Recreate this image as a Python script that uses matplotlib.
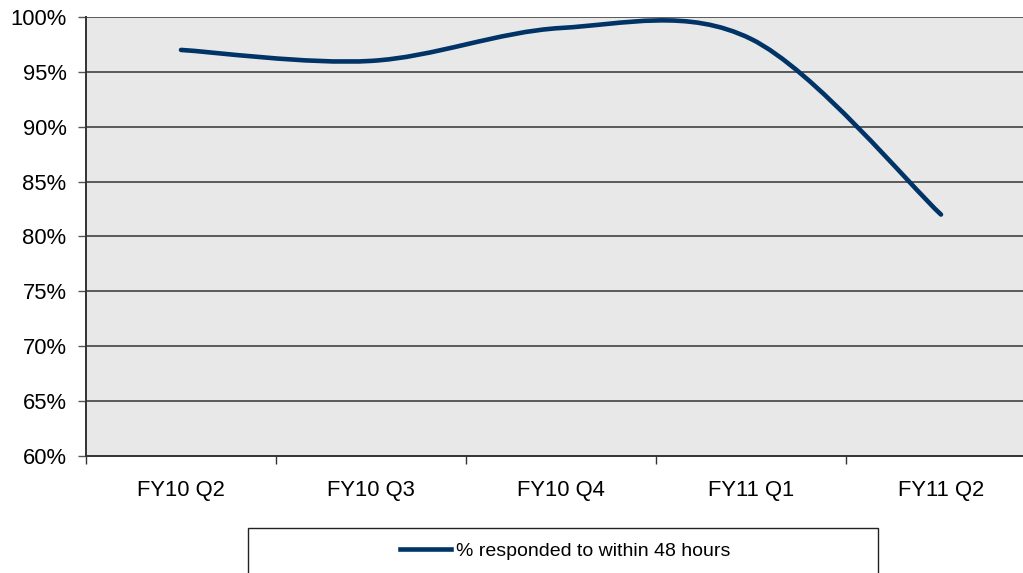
import numpy as np
import matplotlib
matplotlib.use('Agg')
import matplotlib.pyplot as plt
from matplotlib.path import Path
from matplotlib.patches import PathPatch, Rectangle
from matplotlib.lines import Line2D

plt.rcParams['font.family'] = ['Liberation Sans', 'DejaVu Sans']

# data
quarters = ['FY10 Q2', 'FY10 Q3', 'FY10 Q4', 'FY11 Q1', 'FY11 Q2']
responded = [97, 96, 99, 98, 82]
series_name = '% responded to within 48 hours'
yticks = [60, 65, 70, 75, 80, 85, 90, 95, 100]

line_color = '#003366'

fig = plt.figure(figsize=(10.23, 5.73), dpi=100)
# plot area runs a little past the right edge, like the original
ax = fig.add_axes([86 / 1023, 117 / 573, 950 / 1023, 439 / 573])
ax.set_facecolor('#e8e8e8')

x = np.arange(len(quarters))
y = np.array(responded, dtype=float)

# smooth line the way a spreadsheet does it: cubic beziers, tangents from neighbours
verts = [(x[0], y[0])]
codes = [Path.MOVETO]
n = len(x)
for i in range(n - 1):
    p0 = np.array([x[max(i - 1, 0)], y[max(i - 1, 0)]])
    p1 = np.array([x[i], y[i]])
    p2 = np.array([x[i + 1], y[i + 1]])
    p3 = np.array([x[min(i + 2, n - 1)], y[min(i + 2, n - 1)]])
    c1 = p1 + (p2 - p0) / 6
    c2 = p2 - (p3 - p1) / 6
    verts += [tuple(c1), tuple(c2), tuple(p2)]
    codes += [Path.CURVE4] * 3
ax.add_patch(PathPatch(Path(verts, codes), facecolor='none', edgecolor=line_color,
                       lw=3.3, capstyle='round', joinstyle='round', zorder=3))

ax.set_xlim(-0.5, len(quarters) - 0.5)
ax.set_ylim(60, 100)

for v in yticks[1:]:
    ax.axhline(v, color='#333333', lw=1.1, zorder=1)

ax.set_yticks(yticks)
ax.set_yticklabels([f'{v}%' for v in yticks], fontsize=15.8)
ax.tick_params(axis='y', direction='out', length=6, width=1, color='#555555', pad=8)

ax.set_xticks(x)
ax.set_xticklabels(quarters, fontsize=15.8)
ax.tick_params(axis='x', which='major', length=0, pad=17)
ax.set_xticks(np.arange(-0.5, len(quarters), 1), minor=True)
ax.tick_params(axis='x', which='minor', direction='out', length=6, width=1, color='#333333')

for s in ['top', 'right']:
    ax.spines[s].set_visible(False)
for s in ['left', 'bottom']:
    ax.spines[s].set_color('#333333')
    ax.spines[s].set_linewidth(1.4)

# legend box, cut off by the bottom edge
fig.patches.append(Rectangle((248 / 1023, -0.05), 630 / 1023, 0.05 + 45 / 573,
                             transform=fig.transFigure, facecolor='white',
                             edgecolor='#222222', lw=1))
fig.legend([Line2D([], [], color=line_color, lw=3.3)], [series_name],
           loc='center', bbox_to_anchor=(565 / 1023, 1 - 551 / 573),
           frameon=False, fontsize=14, handlelength=2.6, handletextpad=0.25)

fig.savefig('out.png', dpi=100)
